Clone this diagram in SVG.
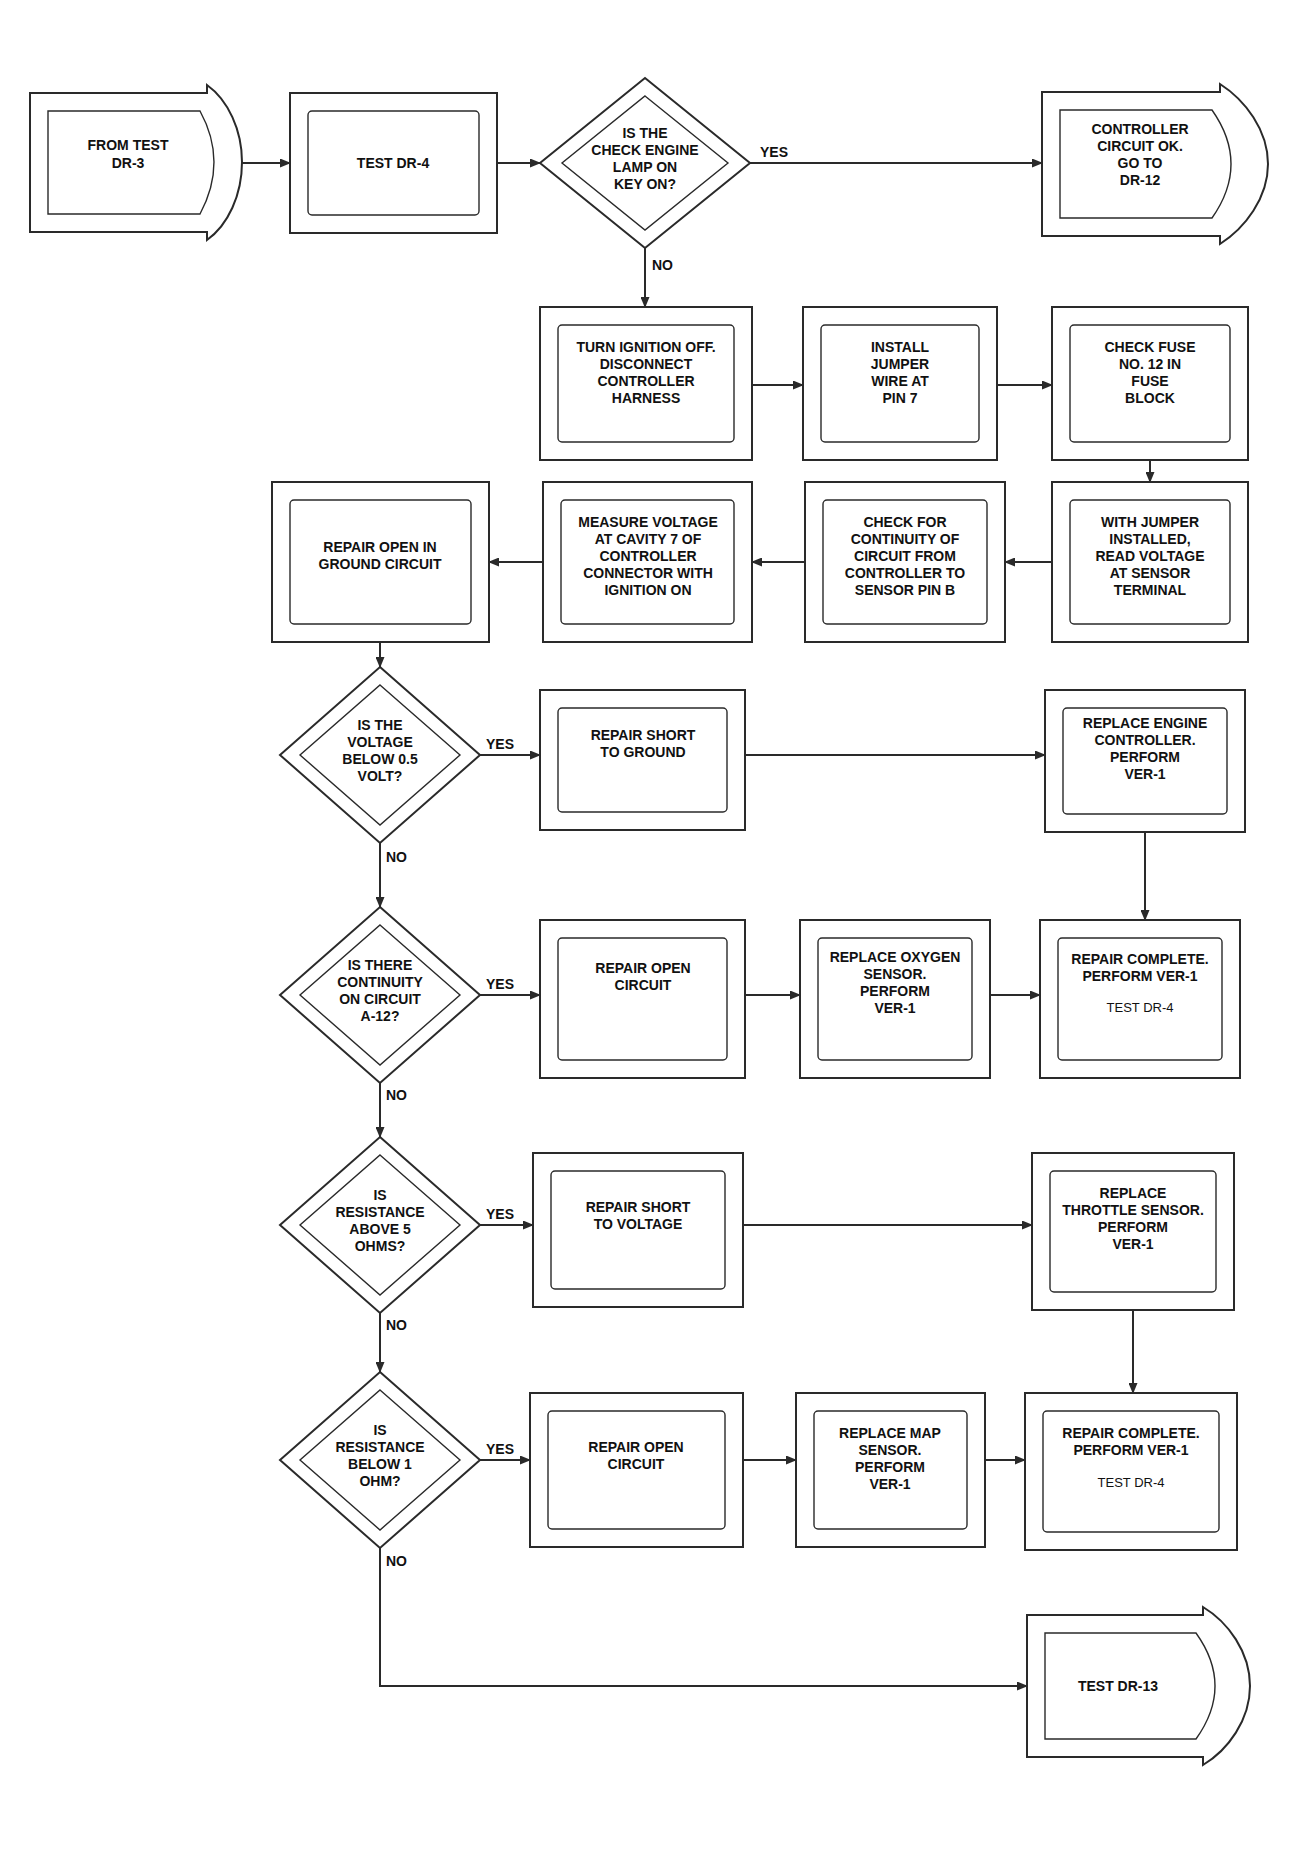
<svg xmlns="http://www.w3.org/2000/svg" width="1307" height="1855" viewBox="0 0 1307 1855">
<style>
.o{fill:none;stroke:#2a2a2a;stroke-width:2}
.i{fill:none;stroke:#2a2a2a;stroke-width:1.4}
.w{fill:none;stroke:#2a2a2a;stroke-width:2}
.t{font-family:"Liberation Sans",Arial,sans-serif;font-size:14px;font-weight:bold;fill:#111;text-anchor:middle}
.n{font-family:"Liberation Sans",Arial,sans-serif;font-size:13px;fill:#111;text-anchor:middle}
.l{font-family:"Liberation Sans",Arial,sans-serif;font-size:14px;font-weight:bold;fill:#111}
</style>
<defs>
<marker id="ah" markerWidth="11" markerHeight="9" refX="10" refY="4.5" orient="auto" markerUnits="userSpaceOnUse"><path d="M0,0 L11,4.5 L0,9 Z" fill="#2a2a2a"/></marker>
</defs>
<rect width="1307" height="1855" fill="#fff"/>

<g id="connectors">
<line class="w" x1="242" y1="163" x2="290" y2="163" marker-end="url(#ah)"/>
<line class="w" x1="497" y1="163" x2="540" y2="163" marker-end="url(#ah)"/>
<line class="w" x1="750" y1="163" x2="1042" y2="163" marker-end="url(#ah)"/>
<line class="w" x1="645" y1="248" x2="645" y2="307" marker-end="url(#ah)"/>
<line class="w" x1="752" y1="385" x2="803" y2="385" marker-end="url(#ah)"/>
<line class="w" x1="997" y1="385" x2="1052" y2="385" marker-end="url(#ah)"/>
<line class="w" x1="1150" y1="460" x2="1150" y2="482" marker-end="url(#ah)"/>
<line class="w" x1="1052" y1="562" x2="1005" y2="562" marker-end="url(#ah)"/>
<line class="w" x1="805" y1="562" x2="752" y2="562" marker-end="url(#ah)"/>
<line class="w" x1="543" y1="562" x2="489" y2="562" marker-end="url(#ah)"/>
<line class="w" x1="380" y1="642" x2="380" y2="667" marker-end="url(#ah)"/>
<line class="w" x1="480" y1="755" x2="540" y2="755" marker-end="url(#ah)"/>
<line class="w" x1="745" y1="755" x2="1045" y2="755" marker-end="url(#ah)"/>
<line class="w" x1="1145" y1="832" x2="1145" y2="920" marker-end="url(#ah)"/>
<line class="w" x1="380" y1="843" x2="380" y2="907" marker-end="url(#ah)"/>
<line class="w" x1="480" y1="995" x2="540" y2="995" marker-end="url(#ah)"/>
<line class="w" x1="745" y1="995" x2="800" y2="995" marker-end="url(#ah)"/>
<line class="w" x1="990" y1="995" x2="1040" y2="995" marker-end="url(#ah)"/>
<line class="w" x1="380" y1="1083" x2="380" y2="1137" marker-end="url(#ah)"/>
<line class="w" x1="480" y1="1225" x2="533" y2="1225" marker-end="url(#ah)"/>
<line class="w" x1="743" y1="1225" x2="1032" y2="1225" marker-end="url(#ah)"/>
<line class="w" x1="1133" y1="1310" x2="1133" y2="1393" marker-end="url(#ah)"/>
<line class="w" x1="380" y1="1313" x2="380" y2="1372" marker-end="url(#ah)"/>
<line class="w" x1="480" y1="1460" x2="530" y2="1460" marker-end="url(#ah)"/>
<line class="w" x1="743" y1="1460" x2="796" y2="1460" marker-end="url(#ah)"/>
<line class="w" x1="985" y1="1460" x2="1025" y2="1460" marker-end="url(#ah)"/>
<path class="w" d="M380,1548 L380,1686 L1027,1686" marker-end="url(#ah)"/>
<text class="l" x="760" y="157">YES</text>
<text class="l" x="652" y="270">NO</text>
<text class="l" x="486" y="749">YES</text>
<text class="l" x="386" y="862">NO</text>
<text class="l" x="486" y="989">YES</text>
<text class="l" x="386" y="1100">NO</text>
<text class="l" x="486" y="1219">YES</text>
<text class="l" x="386" y="1330">NO</text>
<text class="l" x="486" y="1454">YES</text>
<text class="l" x="386" y="1566">NO</text>
</g>

<g id="nodeA">
<path class="o" d="M30,93 L207,93 L207,85 C228,100 242,130 242,162 C242,195 228,225 207,240 L207,232 L30,232 Z"/>
<path class="i" d="M48,111 L200,111 Q228,162 200,214 L48,214 Z"/>
<text class="t" x="128" y="150">FROM TEST</text>
<text class="t" x="128" y="168">DR-3</text>
</g>
<g id="nodeB">
<rect class="o" x="290" y="93" width="207" height="140"/>
<rect class="i" x="308" y="111" width="171" height="104" rx="4"/>
<text class="t" x="393" y="168">TEST DR-4</text>
</g>
<g id="nodeD1">
<polygon class="o" points="645,78 750,163 645,248 540,163"/>
<polygon class="i" points="645,96 728,163 645,230 562,163"/>
<text class="t" x="645" y="138">IS THE</text>
<text class="t" x="645" y="155">CHECK ENGINE</text>
<text class="t" x="645" y="172">LAMP ON</text>
<text class="t" x="645" y="189">KEY ON?</text>
</g>
<g id="nodeC">
<path class="o" d="M1042,92 L1220,92 L1220,84 C1245,100 1268,130 1268,164 C1268,198 1245,228 1220,244 L1220,236 L1042,236 Z"/>
<path class="i" d="M1060,110 L1212,110 Q1250,164 1212,218 L1060,218 Z"/>
<text class="t" x="1140" y="134">CONTROLLER</text>
<text class="t" x="1140" y="151">CIRCUIT OK.</text>
<text class="t" x="1140" y="168">GO TO</text>
<text class="t" x="1140" y="185">DR-12</text>
</g>

<g id="nodeE">
<rect class="o" x="540" y="307" width="212" height="153"/>
<rect class="i" x="558" y="325" width="176" height="117" rx="4"/>
<text class="t" x="646" y="352">TURN IGNITION OFF.</text>
<text class="t" x="646" y="369">DISCONNECT</text>
<text class="t" x="646" y="386">CONTROLLER</text>
<text class="t" x="646" y="403">HARNESS</text>
</g>
<g id="nodeF">
<rect class="o" x="803" y="307" width="194" height="153"/>
<rect class="i" x="821" y="325" width="158" height="117" rx="4"/>
<text class="t" x="900" y="352">INSTALL</text>
<text class="t" x="900" y="369">JUMPER</text>
<text class="t" x="900" y="386">WIRE AT</text>
<text class="t" x="900" y="403">PIN 7</text>
</g>
<g id="nodeG">
<rect class="o" x="1052" y="307" width="196" height="153"/>
<rect class="i" x="1070" y="325" width="160" height="117" rx="4"/>
<text class="t" x="1150" y="352">CHECK FUSE</text>
<text class="t" x="1150" y="369">NO. 12 IN</text>
<text class="t" x="1150" y="386">FUSE</text>
<text class="t" x="1150" y="403">BLOCK</text>
</g>

<g id="nodeH">
<rect class="o" x="272" y="482" width="217" height="160"/>
<rect class="i" x="290" y="500" width="181" height="124" rx="4"/>
<text class="t" x="380" y="552">REPAIR OPEN IN</text>
<text class="t" x="380" y="569">GROUND CIRCUIT</text>
</g>
<g id="nodeI">
<rect class="o" x="543" y="482" width="209" height="160"/>
<rect class="i" x="561" y="500" width="173" height="124" rx="4"/>
<text class="t" x="648" y="527">MEASURE VOLTAGE</text>
<text class="t" x="648" y="544">AT CAVITY 7 OF</text>
<text class="t" x="648" y="561">CONTROLLER</text>
<text class="t" x="648" y="578">CONNECTOR WITH</text>
<text class="t" x="648" y="595">IGNITION ON</text>
</g>
<g id="nodeJ">
<rect class="o" x="805" y="482" width="200" height="160"/>
<rect class="i" x="823" y="500" width="164" height="124" rx="4"/>
<text class="t" x="905" y="527">CHECK FOR</text>
<text class="t" x="905" y="544">CONTINUITY OF</text>
<text class="t" x="905" y="561">CIRCUIT FROM</text>
<text class="t" x="905" y="578">CONTROLLER TO</text>
<text class="t" x="905" y="595">SENSOR PIN B</text>
</g>
<g id="nodeK">
<rect class="o" x="1052" y="482" width="196" height="160"/>
<rect class="i" x="1070" y="500" width="160" height="124" rx="4"/>
<text class="t" x="1150" y="527">WITH JUMPER</text>
<text class="t" x="1150" y="544">INSTALLED,</text>
<text class="t" x="1150" y="561">READ VOLTAGE</text>
<text class="t" x="1150" y="578">AT SENSOR</text>
<text class="t" x="1150" y="595">TERMINAL</text>
</g>

<g id="nodeD2">
<polygon class="o" points="380,667 480,755 380,843 280,755"/>
<polygon class="i" points="380,685 460,755 380,825 300,755"/>
<text class="t" x="380" y="730">IS THE</text>
<text class="t" x="380" y="747">VOLTAGE</text>
<text class="t" x="380" y="764">BELOW 0.5</text>
<text class="t" x="380" y="781">VOLT?</text>
</g>
<g id="nodeL">
<rect class="o" x="540" y="690" width="205" height="140"/>
<rect class="i" x="558" y="708" width="169" height="104" rx="4"/>
<text class="t" x="643" y="740">REPAIR SHORT</text>
<text class="t" x="643" y="757">TO GROUND</text>
</g>
<g id="nodeM">
<rect class="o" x="1045" y="690" width="200" height="142"/>
<rect class="i" x="1063" y="708" width="164" height="106" rx="4"/>
<text class="t" x="1145" y="728">REPLACE ENGINE</text>
<text class="t" x="1145" y="745">CONTROLLER.</text>
<text class="t" x="1145" y="762">PERFORM</text>
<text class="t" x="1145" y="779">VER-1</text>
</g>

<g id="nodeD3">
<polygon class="o" points="380,907 480,995 380,1083 280,995"/>
<polygon class="i" points="380,925 460,995 380,1065 300,995"/>
<text class="t" x="380" y="970">IS THERE</text>
<text class="t" x="380" y="987">CONTINUITY</text>
<text class="t" x="380" y="1004">ON CIRCUIT</text>
<text class="t" x="380" y="1021">A-12?</text>
</g>
<g id="nodeN">
<rect class="o" x="540" y="920" width="205" height="158"/>
<rect class="i" x="558" y="938" width="169" height="122" rx="4"/>
<text class="t" x="643" y="973">REPAIR OPEN</text>
<text class="t" x="643" y="990">CIRCUIT</text>
</g>
<g id="nodeO">
<rect class="o" x="800" y="920" width="190" height="158"/>
<rect class="i" x="818" y="938" width="154" height="122" rx="4"/>
<text class="t" x="895" y="962">REPLACE OXYGEN</text>
<text class="t" x="895" y="979">SENSOR.</text>
<text class="t" x="895" y="996">PERFORM</text>
<text class="t" x="895" y="1013">VER-1</text>
</g>
<g id="nodeP">
<rect class="o" x="1040" y="920" width="200" height="158"/>
<rect class="i" x="1058" y="938" width="164" height="122" rx="4"/>
<text class="t" x="1140" y="964">REPAIR COMPLETE.</text>
<text class="t" x="1140" y="981">PERFORM VER-1</text>
<text class="n" x="1140" y="1012">TEST DR-4</text>
</g>

<g id="nodeD4">
<polygon class="o" points="380,1137 480,1225 380,1313 280,1225"/>
<polygon class="i" points="380,1155 460,1225 380,1295 300,1225"/>
<text class="t" x="380" y="1200">IS</text>
<text class="t" x="380" y="1217">RESISTANCE</text>
<text class="t" x="380" y="1234">ABOVE 5</text>
<text class="t" x="380" y="1251">OHMS?</text>
</g>
<g id="nodeQ">
<rect class="o" x="533" y="1153" width="210" height="154"/>
<rect class="i" x="551" y="1171" width="174" height="118" rx="4"/>
<text class="t" x="638" y="1212">REPAIR SHORT</text>
<text class="t" x="638" y="1229">TO VOLTAGE</text>
</g>
<g id="nodeR">
<rect class="o" x="1032" y="1153" width="202" height="157"/>
<rect class="i" x="1050" y="1171" width="166" height="121" rx="4"/>
<text class="t" x="1133" y="1198">REPLACE</text>
<text class="t" x="1133" y="1215">THROTTLE SENSOR.</text>
<text class="t" x="1133" y="1232">PERFORM</text>
<text class="t" x="1133" y="1249">VER-1</text>
</g>

<g id="nodeD5">
<polygon class="o" points="380,1372 480,1460 380,1548 280,1460"/>
<polygon class="i" points="380,1390 460,1460 380,1530 300,1460"/>
<text class="t" x="380" y="1435">IS</text>
<text class="t" x="380" y="1452">RESISTANCE</text>
<text class="t" x="380" y="1469">BELOW 1</text>
<text class="t" x="380" y="1486">OHM?</text>
</g>
<g id="nodeS">
<rect class="o" x="530" y="1393" width="213" height="154"/>
<rect class="i" x="548" y="1411" width="177" height="118" rx="4"/>
<text class="t" x="636" y="1452">REPAIR OPEN</text>
<text class="t" x="636" y="1469">CIRCUIT</text>
</g>
<g id="nodeT">
<rect class="o" x="796" y="1393" width="189" height="154"/>
<rect class="i" x="814" y="1411" width="153" height="118" rx="4"/>
<text class="t" x="890" y="1438">REPLACE MAP</text>
<text class="t" x="890" y="1455">SENSOR.</text>
<text class="t" x="890" y="1472">PERFORM</text>
<text class="t" x="890" y="1489">VER-1</text>
</g>
<g id="nodeU">
<rect class="o" x="1025" y="1393" width="212" height="157"/>
<rect class="i" x="1043" y="1411" width="176" height="121" rx="4"/>
<text class="t" x="1131" y="1438">REPAIR COMPLETE.</text>
<text class="t" x="1131" y="1455">PERFORM VER-1</text>
<text class="n" x="1131" y="1487">TEST DR-4</text>
</g>

<g id="nodeV">
<path class="o" d="M1027,1615 L1203,1615 L1203,1607 C1228,1622 1250,1652 1250,1686 C1250,1720 1228,1750 1203,1765 L1203,1757 L1027,1757 Z"/>
<path class="i" d="M1045,1633 L1196,1633 Q1234,1686 1196,1739 L1045,1739 Z"/>
<text class="t" x="1118" y="1691">TEST DR-13</text>
</g>
</svg>
